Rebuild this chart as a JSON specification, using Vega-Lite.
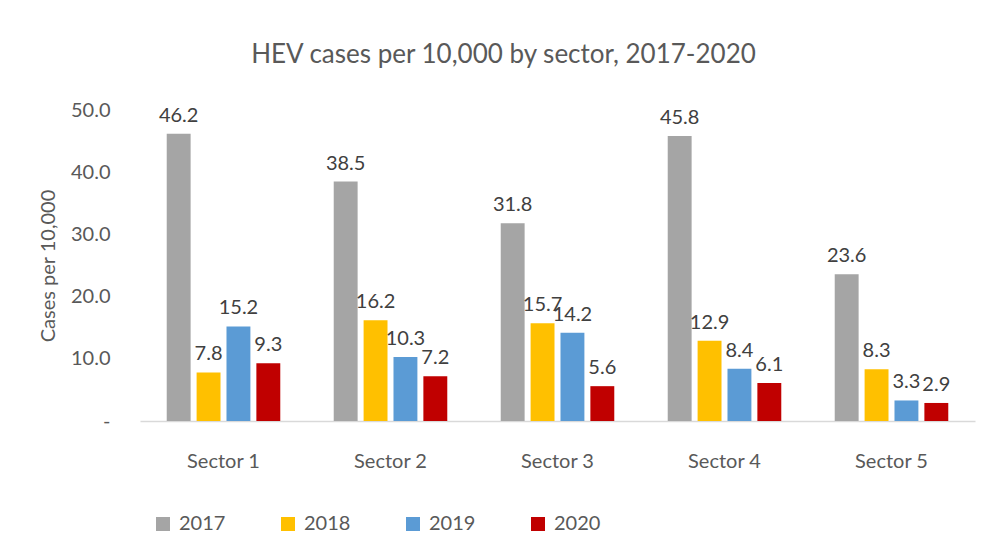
{
  "$schema": "https://vega.github.io/schema/vega-lite/v6.json",
  "autosize": "none",
  "width": 835,
  "height": 311,
  "padding": {"left": 140, "top": 110, "right": 13, "bottom": 139},
  "background": "white",
  "title": {
    "text": "HEV cases per 10,000 by sector, 2017-2020",
    "font": "Lato",
    "fontSize": 26,
    "fontWeight": "normal",
    "color": "#595959",
    "offset": 32,
    "dx": -54,
    "anchor": "middle"
  },
  "data": {
    "values": [
      {"sector": "Sector 1", "year": "2017", "value": 46.2},
      {"sector": "Sector 1", "year": "2018", "value": 7.8},
      {"sector": "Sector 1", "year": "2019", "value": 15.2},
      {"sector": "Sector 1", "year": "2020", "value": 9.3},
      {"sector": "Sector 2", "year": "2017", "value": 38.5},
      {"sector": "Sector 2", "year": "2018", "value": 16.2},
      {"sector": "Sector 2", "year": "2019", "value": 10.3},
      {"sector": "Sector 2", "year": "2020", "value": 7.2},
      {"sector": "Sector 3", "year": "2017", "value": 31.8},
      {"sector": "Sector 3", "year": "2018", "value": 15.7},
      {"sector": "Sector 3", "year": "2019", "value": 14.2},
      {"sector": "Sector 3", "year": "2020", "value": 5.6},
      {"sector": "Sector 4", "year": "2017", "value": 45.8},
      {"sector": "Sector 4", "year": "2018", "value": 12.9},
      {"sector": "Sector 4", "year": "2019", "value": 8.4},
      {"sector": "Sector 4", "year": "2020", "value": 6.1},
      {"sector": "Sector 5", "year": "2017", "value": 23.6},
      {"sector": "Sector 5", "year": "2018", "value": 8.3},
      {"sector": "Sector 5", "year": "2019", "value": 3.3},
      {"sector": "Sector 5", "year": "2020", "value": 2.9}
    ]
  },
  "encoding": {
    "x": {
      "field": "sector",
      "type": "nominal",
      "scale": {"paddingInner": 0.32, "paddingOuter": 0.16},
      "axis": {
        "title": null,
        "labelAngle": 0,
        "labelFont": "Lato",
        "labelFontSize": 20,
        "labelColor": "#595959",
        "labelPadding": 30,
        "ticks": false,
        "domainColor": "#d9d9d9",
        "domainWidth": 1.5
      }
    },
    "xOffset": {"field": "year", "type": "nominal", "scale": {"paddingInner": 0.2}},
    "y": {
      "field": "value",
      "type": "quantitative",
      "scale": {"domain": [0, 50]},
      "axis": {
        "title": "Cases per 10,000",
        "titleFont": "Lato",
        "titleFontSize": 20,
        "titleFontWeight": "normal",
        "titleColor": "#595959",
        "titlePadding": 12,
        "values": [0, 10, 20, 30, 40, 50],
        "labelExpr": "datum.value == 0 ? '-' : format(datum.value, '.1f')",
        "labelFont": "Lato",
        "labelFontSize": 20,
        "labelColor": "#595959",
        "labelPadding": 30,
        "ticks": false,
        "domain": false,
        "grid": false
      }
    }
  },
  "layer": [
    {
      "mark": {"type": "bar"},
      "encoding": {
        "color": {
          "field": "year",
          "type": "nominal",
          "scale": {"domain": ["2017", "2018", "2019", "2020"], "range": ["#a5a5a5", "#ffc000", "#5b9bd5", "#c00000"]},
          "legend": {
            "title": null,
            "orient": "none",
            "legendX": 13,
            "legendY": 404,
            "direction": "horizontal",
            "columns": 4,
            "symbolType": "square",
            "symbolSize": 196,
            "symbolStrokeWidth": 0,
            "labelFont": "Lato",
            "labelFontSize": 20,
            "labelColor": "#595959",
            "labelOffset": 6,
            "columnPadding": 52
          }
        }
      }
    },
    {
      "mark": {"type": "text", "baseline": "bottom", "dy": -8, "font": "Lato", "fontSize": 20, "color": "#404040"},
      "encoding": {
        "text": {"field": "value", "type": "quantitative", "format": ".1f"}
      }
    }
  ],
  "config": {"view": {"stroke": null}}
}
